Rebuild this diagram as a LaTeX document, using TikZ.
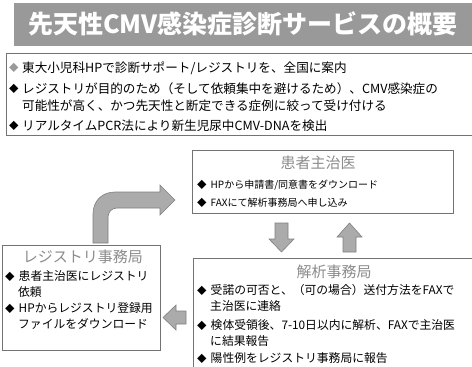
\documentclass[tikz,border=0pt]{standalone}
\usepackage{fontspec}
\setmainfont{Noto Sans CJK JP}
\newcommand{\dia}{{\fontsize{9.5}{10}\selectfont ◆}\hspace{4pt}}
\begin{document}
\begin{tikzpicture}[x=1pt,y=-1pt,
  box/.style={draw=black!55, line width=0.8pt, fill=white, inner sep=0pt, anchor=north west},
  txt/.style={anchor=west, inner sep=0pt, font=\fontsize{12.6}{14}\selectfont},
  stxt/.style={anchor=west, inner sep=0pt, font=\fontsize{11.8}{13}\selectfont},
  ptxt/.style={anchor=west, inner sep=0pt, font=\fontsize{10}{12}\selectfont},
  btitle/.style={inner sep=0pt, text=black!45, font=\fontsize{15}{16}\selectfont},
  blockarrow/.style={fill=black!33, draw=black!50, line width=0.6pt}]
\useasboundingbox (0,0) rectangle (472,367);
\clip (0,0) rectangle (472,367);
% title
\node[fill=black!40, minimum width=470pt, minimum height=43pt, inner sep=0pt, anchor=north west] (title) at (14,3) {};
\node[inner sep=0pt, text=white, font=\fontsize{25}{26}\selectfont\bfseries] (titletext) at (243,24) {先天性CMV感染症診断サービスの概要};
% intro box
\node[box, minimum width=472pt, minimum height=82pt] (intro) at (6,53) {};
\node[txt, text=black!40] (b1) at (9,68) {\dia};
\node[txt] (l1) at (22,68) {東大小児科HPで診断サポート/レジストリを、全国に案内};
\node[txt] (b2) at (9,89) {\dia};
\node[txt] (l2) at (22,89) {レジストリが目的のため（そして依頼集中を避けるため）、CMV感染症の};
\node[txt] (l3) at (22,106) {可能性が高く、かつ先天性と断定できる症例に絞って受け付ける};
\node[txt] (b3) at (9,126) {\dia};
\node[txt] (l4) at (22,126) {リアルタイムPCR法により新生児尿中CMV-DNAを検出};
% doctor box
\node[box, minimum width=261pt, minimum height=63pt] (doctor) at (192,150) {};
\node[btitle] (doctortitle) at (318,163) {患者主治医};
\node[ptxt] (d1) at (197,185) {\dia HPから申請書/同意書をダウンロード};
\node[ptxt] (d2) at (197,203) {\dia FAXにて解析事務局へ申し込み};
% registry box
\node[box, minimum width=158pt, minimum height=105pt] (registry) at (2,245) {};
\node[btitle] (registrytitle) at (83,257) {レジストリ事務局};
\node[stxt] (r1) at (5,276) {\dia 患者主治医にレジストリ};
\node[stxt] (r2) at (18,292) {依頼};
\node[stxt] (r3) at (5,308) {\dia HPからレジストリ登録用};
\node[stxt] (r4) at (18,324) {ファイルをダウンロード};
% analysis box
\node[box, minimum width=290pt, minimum height=120pt] (analysis) at (193,258) {};
\node[btitle] (analysistitle) at (334,272) {解析事務局};
\node[stxt] (a1) at (197,290) {\dia 受諾の可否と、（可の場合）送付方法をFAXで};
\node[stxt] (a2) at (210,306) {主治医に連絡};
\node[stxt] (a3) at (197,325) {\dia 検体受領後、7-10日以内に解析、FAXで主治医};
\node[stxt] (a4) at (210,341) {に結果報告};
\node[stxt] (a5) at (197,358) {\dia 陽性例をレジストリ事務局に報告};
% bent arrow registry -> doctor
\draw[blockarrow] (93,243) -- (93,214) .. controls (93,201) and (102,192) .. (115,192)
  -- (160,192) -- (160,185) -- (175,200) -- (160,215) -- (160,208) -- (117,208)
  .. controls (112,208) and (108,212) .. (108,217) -- (108,243) -- cycle;
% down arrow doctor -> analysis
\draw[blockarrow] (275,223) -- (288,223) -- (288,239) -- (294,239) -- (281.5,252) -- (269,239) -- (275,239) -- cycle;
% up arrow analysis -> doctor
\draw[blockarrow] (343,252) -- (356,252) -- (356,237) -- (362,237) -- (349.5,223) -- (337,237) -- (343,237) -- cycle;
% left arrow analysis -> registry
\draw[blockarrow] (186,311) -- (186,324) -- (176,324) -- (176,330) -- (163,317.5) -- (176,305) -- (176,311) -- cycle;
\end{tikzpicture}
\end{document}
